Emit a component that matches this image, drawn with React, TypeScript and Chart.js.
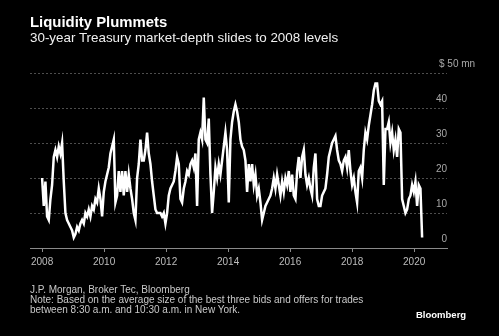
import React, { useEffect, useRef } from "react";
import { Chart, registerables } from "chart.js";

Chart.register(...registerables);

// Sampling: first observation at the start of 2008, then roughly every 2.8 weeks
const firstYear = 2008.0;
const sampleStepYears = 0.05376;

// 30-year Treasury market depth, $ mn
const depth2008to2009 = [20, 12, 19, 9, 8, 14, 18, 26, 28, 26, 29, 27, 30, 19, 10, 8, 7, 6, 5, 3, 4, 6, 5, 7, 8, 7, 10, 9, 11, 9, 12, 11, 14, 13, 17, 14];
const depth2010to2011 = [9, 16, 19, 21, 23, 27, 29, 31, 13, 15, 22, 16, 22, 15, 22, 16, 21, 17, 14, 10, 8, 20, 24, 31, 25, 25, 28, 33, 27, 24, 19, 15, 11, 10, 10, 10, 9, 10, 7];
const depth2012to2013 = [10, 15, 17, 18, 19, 22, 26, 24, 14, 13, 17, 19, 22, 21, 24, 25, 23, 27, 12, 31, 33, 31, 43, 31, 30, 37, 21, 10, 16, 23, 20, 24, 21, 25, 29, 33, 28, 13];
const depth2014to2015 = [31, 36, 39, 41, 39, 36, 31, 29, 28, 25, 16, 24, 19, 24, 18, 21, 15, 17, 13, 8, 10, 12, 13, 14, 15, 17, 20, 17, 21, 18, 15, 19, 16, 20, 18, 22, 16, 21, 15];
const depth2016to2017 = [14, 22, 26, 20, 26, 28, 21, 18, 20, 17, 15, 23, 27, 14, 12, 12, 15, 16, 17, 21, 26, 28, 30, 31, 32, 28, 25, 24, 22, 25, 26, 23, 28, 22, 18, 20, 16, 13];
const depth2018to2020 = [22, 23, 20, 28, 33, 31, 35, 38, 41, 45, 47, 47, 42, 41, 42, 18, 34, 34, 36, 30, 33, 28, 31, 26, 34, 33, 14, 12, 10, 11, 14, 15, 18, 16, 19, 12, 18, 17, 3];

const depthValues = [
  ...depth2008to2009,
  ...depth2010to2011,
  ...depth2012to2013,
  ...depth2014to2015,
  ...depth2016to2017,
  ...depth2018to2020,
];

const xTickYears = [2008, 2010, 2012, 2014, 2016, 2018, 2020];
const yTickValues = [0, 10, 20, 30, 40, 50];
const unitLabel = "$ 50 mn";

const titleText = "Liquidity Plummets";
const subtitleText = "30-year Treasury market-depth slides to 2008 levels";
const sourceText = "J.P. Morgan, Broker Tec, Bloomberg";
const noteLine1 = "Note: Based on the average size of the best three bids and offers for trades";
const noteLine2 = "between 8:30 a.m. and 10:30 a.m. in New York.";
const brandText = "Bloomberg";

const FONT = '"Liberation Sans", Arial, sans-serif';

export default function App() {
  const canvasRef = useRef<HTMLCanvasElement>(null);

  useEffect(() => {
    const points = depthValues.map((v, i) => ({ x: firstYear + i * sampleStepYears, y: v }));
    const chart = new Chart(canvasRef.current as HTMLCanvasElement, {
      type: "line",
      data: {
        datasets: [
          {
            data: points,
            borderColor: "#ffffff",
            borderWidth: 2.5,
            pointRadius: 0,
            tension: 0,
            fill: false,
          },
        ],
      },
      options: {
        responsive: false,
        animation: false,
        events: [],
        layout: { padding: { left: 30, right: 52, top: 73, bottom: 64 } },
        plugins: { legend: { display: false }, tooltip: { enabled: false }, title: { display: false } },
        scales: {
          x: {
            type: "linear",
            min: 2007.61,
            max: 2021.06,
            afterBuildTicks: (scale: any) => {
              scale.ticks = xTickYears.map((v) => ({ value: v }));
            },
            grid: { drawOnChartArea: false, drawTicks: true, tickLength: 4, color: "#8a8a8a", lineWidth: 1 },
            border: { display: true, color: "#8a8a8a", width: 1 },
            ticks: {
              color: "#bdbdbd",
              font: { family: FONT, size: 10 },
              padding: 4,
              maxRotation: 0,
              autoSkip: false,
              callback: (v: any) => String(v),
            },
          },
          y: {
            position: "right",
            min: 0,
            max: 50,
            afterBuildTicks: (scale: any) => {
              scale.ticks = yTickValues.map((v) => ({ value: v }));
            },
            grid: { color: "#4d4d4d", lineWidth: 1, drawTicks: false },
            border: { display: false, dash: [2, 2] },
            ticks: {
              mirror: true,
              padding: 0,
              labelOffset: -9,
              color: "#a8a8a8",
              font: { family: FONT, size: 10 },
              callback: (v: any) => (v === 50 ? "" : String(v)),
            },
          },
        },
      },
    });
    return () => chart.destroy();
  }, []);

  return (
    <div
      style={{
        position: "fixed",
        left: 0,
        top: 0,
        width: 499,
        height: 336,
        background: "#000",
        overflow: "hidden",
        fontFamily: FONT,
      }}
    >
      <canvas
        ref={canvasRef}
        width={499}
        height={336}
        style={{ position: "absolute", left: 0, top: 0, width: 499, height: 336, display: "block" }}
      />
      <div style={{ position: "absolute", left: 30, top: 14, fontSize: 14.9, lineHeight: "17px", fontWeight: "bold", color: "#fff", whiteSpace: "nowrap" }}>
        {titleText}
      </div>
      <div style={{ position: "absolute", left: 30, top: 30, fontSize: 13.4, lineHeight: "15px", color: "#f0f0f0", whiteSpace: "nowrap" }}>
        {subtitleText}
      </div>
      <div style={{ position: "absolute", left: 439, top: 58, fontSize: 10, lineHeight: "12px", color: "#a8a8a8", whiteSpace: "nowrap" }}>
        {unitLabel}
      </div>
      <div style={{ position: "absolute", left: 30, top: 285, fontSize: 10, lineHeight: "10px", color: "#c8c8c8", whiteSpace: "nowrap" }}>
        <div>{sourceText}</div>
        <div>{noteLine1}</div>
        <div>{noteLine2}</div>
      </div>
      <div style={{ position: "absolute", left: 416, top: 309, fontSize: 9.5, lineHeight: "12px", fontWeight: "bold", color: "#fff", whiteSpace: "nowrap" }}>
        {brandText}
      </div>
    </div>
  );
}
